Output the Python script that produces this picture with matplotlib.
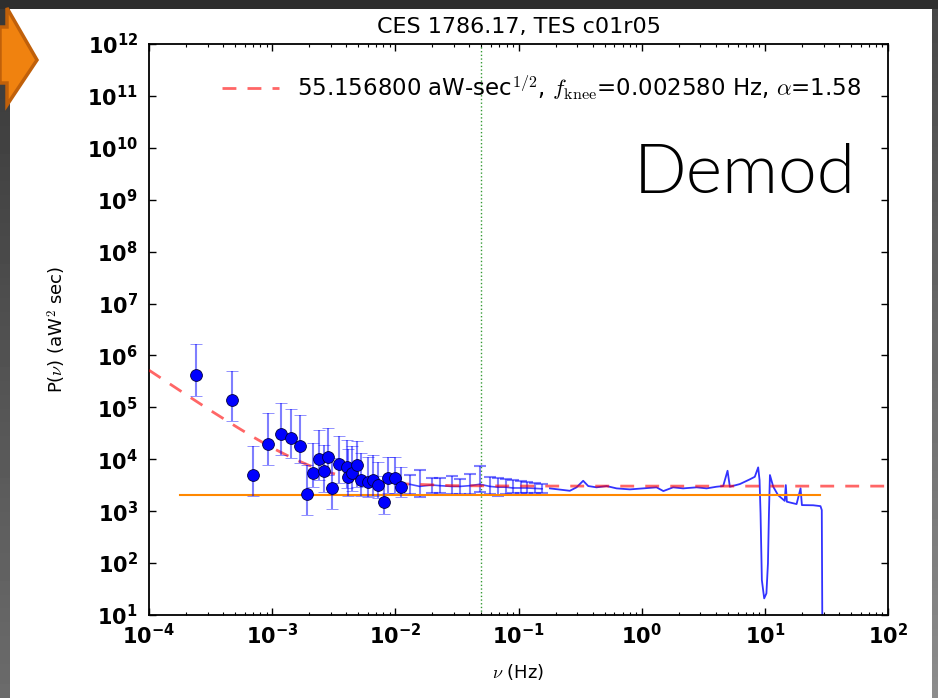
import numpy as np
import matplotlib
matplotlib.use("Agg")
import matplotlib.pyplot as plt
from matplotlib.patches import Polygon, Rectangle

# low frequency binned points (circles with error bars)
bin_f = [2.40e-4, 4.74e-4, 7.03e-4, 9.29e-4, 1.19e-3, 1.43e-3, 1.68e-3, 1.93e-3, 2.13e-3,
         2.38e-3, 2.65e-3, 2.85e-3, 3.05e-3, 3.51e-3, 4.03e-3, 4.10e-3, 4.41e-3, 4.85e-3,
         5.22e-3, 6.02e-3, 6.62e-3, 7.26e-3, 8.07e-3, 8.75e-3, 9.93e-3, 1.11e-2]
bin_p = [4.2e5, 1.38e5, 5.0e3, 1.96e4, 3.06e4, 2.56e4, 1.79e4, 2.13e3, 5.4e3,
         1.01e4, 5.9e3, 1.10e4, 2.8e3, 8.1e3, 7.0e3, 4.5e3, 5.5e3, 7.7e3,
         4.0e3, 3.7e3, 4.0e3, 3.2e3, 1.5e3, 4.3e3, 4.3e3, 2.95e3]
bin_lo = [1.65e5, 5.4e4, 1.95e3, 7.7e3, 1.2e4, 1.05e4, 8.4e3, 840, 2.9e3,
          4.0e3, 2.3e3, 5.0e3, 1.1e3, 3.5e3, 2.8e3, 2.0e3, 2.4e3, 2.9e3,
          2.0e3, 1.9e3, 2.0e3, 1.8e3, 900, 2.2e3, 2.2e3, 1.9e3]
bin_hi = [1.66e6, 5.0e5, 1.8e4, 7.8e4, 1.21e5, 9.3e4, 7.1e4, 7.7e3, 2.05e4,
          3.7e4, 1.9e4, 4.0e4, 1.05e4, 2.8e4, 2.3e4, 1.6e4, 1.8e4, 2.2e4,
          1.3e4, 1.1e4, 1.2e4, 9.0e3, 4.8e3, 1.1e4, 1.1e4, 7.0e3]

# mid frequency points (line with error bars)
mid_f = [0.0131, 0.0158, 0.0197, 0.023, 0.0286, 0.0334, 0.0403, 0.0486,
         0.0586, 0.0681, 0.079, 0.090, 0.104, 0.117, 0.135, 0.155]
mid_p = [3300, 3000, 3200, 3100, 3000, 3000, 3100, 3300,
         3000, 2900, 2900, 2800, 2800, 2800, 2750, 2700]
mid_lo = [2100, 1900, 2200, 2200, 2100, 2100, 2100, 2300,
          2100, 2000, 2100, 2200, 2200, 2200, 2200, 2200]
mid_hi = [4900, 6200, 4400, 4300, 4700, 4200, 5200, 7400,
          4600, 4300, 4100, 4000, 3800, 3700, 3500, 3400]

# high frequency spectrum
hf_f = [0.180, 0.261, 0.296, 0.335, 0.368, 0.430, 0.519, 0.625, 0.802, 1.03, 1.32,
        1.50, 1.80, 2.17, 2.79, 3.37, 4.06, 4.59, 4.98, 5.20, 6.27, 7.55, 8.29,
        8.83, 9.06, 9.23, 9.46, 9.88, 10.3, 10.6, 10.8, 11.0, 11.7, 12.8, 14.5,
        14.8, 15.1, 18.1, 19.5, 20.0, 24.7, 28.3, 29.0, 29.4]
hf_p = [2750, 2470, 2880, 3850, 3050, 2880, 3050, 2750, 2630, 2750, 2880,
        2440, 2880, 2750, 2880, 2750, 2960, 3050, 6010, 2960, 3330, 4100, 4600,
        6980, 3970, 908, 47, 20.9, 26.1, 98.6, 908, 4970, 2960, 2040, 1580,
        3180, 1520, 1370, 2750, 1310, 1300, 1250, 1050, 1]

# 1/f fit curve
fit_f = [1e-4, 2e-4, 3e-4, 5e-4, 7e-4, 1e-3, 1.5e-3, 2e-3, 3e-3, 5e-3, 1e-2,
         3e-2, 1e-1, 1, 10, 100]
fit_p = [5.2e5, 1.76e5, 9.4e4, 4.38e4, 2.69e4, 1.66e4, 1.02e4, 7.59e3, 5.44e3,
         4.11e3, 3.40e3, 3.10e3, 3.05e3, 3.04e3, 3.04e3, 3.04e3]

white_f = [1.8e-4, 28]
white_p = [2050, 2050]
f_cut = 0.05

xtick_vals = [1e-4, 1e-3, 1e-2, 1e-1, 1e0, 1e1, 1e2]
xtick_labels = [r'$\mathbf{10^{-4}}$', r'$\mathbf{10^{-3}}$', r'$\mathbf{10^{-2}}$',
                r'$\mathbf{10^{-1}}$', r'$\mathbf{10^{0}}$', r'$\mathbf{10^{1}}$',
                r'$\mathbf{10^{2}}$']
ytick_vals = [10.0 ** k for k in range(1, 13)]
ytick_labels = [r'$\mathbf{10^{%d}}$' % k for k in range(1, 13)]

legend_label = r'55.156800 aW-sec$^{1/2}$, $f_{\rm knee}$=0.002580 Hz, $\alpha$=1.58'

W, H = 938, 698
fig = plt.figure(figsize=(W / 100, H / 100), dpi=100, facecolor='#2e2e2e')

# slide background
bg = fig.add_axes([0, 0, 1, 1], zorder=-10)
bg.axis('off')
bg.imshow(np.linspace(0.22, 0.42, 100).reshape(-1, 1), extent=[0, 10, H, 9],
          cmap='gray', vmin=0, vmax=1, aspect='auto')
bg.imshow(np.linspace(0.28, 0.55, 100).reshape(-1, 1), extent=[932, W, H, 9],
          cmap='gray', vmin=0, vmax=1, aspect='auto')
bg.add_patch(Rectangle((10, 9), 922, H - 9, facecolor='white', edgecolor='none'))
bg.add_patch(Polygon([(0, 27), (7, 27), (7, 8), (37, 60), (7, 105), (7, 83), (0, 83)],
                     closed=True, facecolor='#f0820f', edgecolor='#c0600a', lw=2.5))
bg.set_xlim(0, W)
bg.set_ylim(H, 0)

ax = fig.add_axes([149 / W, 1 - 615 / H, (888 - 149) / W, (615 - 44) / H])
ax.set_xscale('log')
ax.set_yscale('log')

ax.plot(fit_f, fit_p, '--', color='red', alpha=0.6, lw=2, dashes=(5, 4), label=legend_label, zorder=4)
ax.plot(white_f, white_p, '-', color='#ff8800', lw=1.5, zorder=3)
ax.axvline(f_cut, color='green', ls=':', lw=1, alpha=0.8)

bp = np.array(bin_p)
ax.errorbar(bin_f, bin_p, yerr=[bp - np.array(bin_lo), np.array(bin_hi) - bp], fmt='o',
            color='blue', ms=8.5, mec='#000040', mew=0.6, ecolor=(0, 0, 1, 0.5),
            elinewidth=1.5, capsize=4, capthick=1.5, zorder=5)
mp = np.array(mid_p)
ax.errorbar(mid_f, mid_p, yerr=[mp - np.array(mid_lo), np.array(mid_hi) - mp], fmt='-',
            color=(0, 0, 1, 0.7), lw=1.2, ecolor=(0, 0, 1, 0.5),
            elinewidth=1.5, capsize=4, capthick=1.5, zorder=2)
ax.plot(hf_f, hf_p, '-', color='blue', alpha=0.8, lw=1.3, zorder=2)

ax.set_xlim(1e-4, 1e2)
ax.set_ylim(1e1, 1e12)
ax.set_xticks(xtick_vals)
ax.set_xticklabels(xtick_labels)
ax.set_yticks(ytick_vals)
ax.set_yticklabels(ytick_labels)
ax.tick_params(which='both', direction='in', top=True, right=True)
ax.tick_params(which='major', length=5, width=1, labelsize=15)
ax.tick_params(which='minor', length=2.5, width=0.8)
ax.tick_params(axis='y', which='major', pad=8)
ax.tick_params(axis='x', which='major', pad=6)
for s in ax.spines.values():
    s.set_linewidth(1.3)

ax.set_title('CES 1786.17, TES c01r05', fontsize=16, pad=8)
ax.set_xlabel(r'$\nu$ (Hz)', fontsize=13, labelpad=10, math_fontfamily='cm')
ax.set_ylabel(r'P($\nu$) (aW$^2$ sec)', fontsize=13, labelpad=14, math_fontfamily='cm')

leg = ax.legend(loc='upper right', bbox_to_anchor=(0.992, 0.985), frameon=False, fontsize=16.5,
                handlelength=2.5)
for t in leg.get_texts():
    t.set_math_fontfamily('cm')

fig.text(634 / W, 1 - 193 / H, 'Demod', fontsize=50, family='Lato', fontweight=300,
         color='black', ha='left', va='baseline')

fig.savefig('out.png', dpi=100, facecolor=fig.get_facecolor())
